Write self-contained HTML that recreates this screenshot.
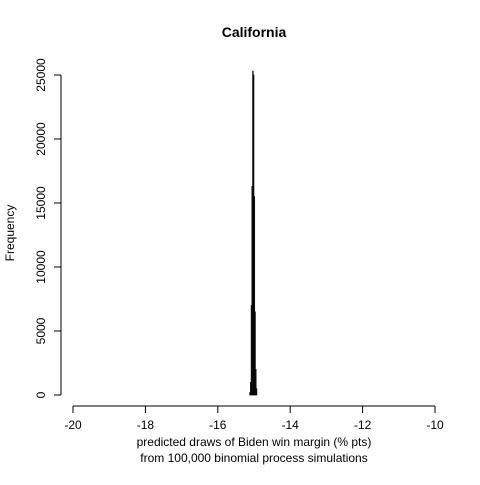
<!DOCTYPE html>
<html><head><meta charset="utf-8"><style>
body{margin:0;background:#fff}
text{font-family:"Liberation Sans",Arial,sans-serif;fill:#000}
</style></head><body>
<svg id="c" width="480" height="480" viewBox="0 0 480 480">
<text x="254" y="37" text-anchor="middle" font-weight="bold" font-size="14">California</text>
<text x="254" y="446" text-anchor="middle" font-size="12">predicted draws of Biden win margin (% pts)</text>
<text x="254" y="462" text-anchor="middle" font-size="12">from 100,000 binomial process simulations</text>
<text transform="translate(14,233) rotate(-90)" text-anchor="middle" font-size="12">Frequency</text>
<g id="bars"></g><g id="ax"></g>
</svg>
<script>
const binStarts=[-15.12,-15.10,-15.08,-15.06,-15.04,-15.02,-15.00,-14.98,-14.96,-14.94];
const counts=[200,1000,7000,16300,25300,25000,15500,6500,2000,500];
const binWidth=0.02;
const xTicks=[-20,-18,-16,-14,-12,-10];
const yTicks=[0,5000,10000,15000,20000,25000];
const NS="http://www.w3.org/2000/svg";
const X=v=>73+(v+20)*36.2;
const Y=v=>395-v*0.0128;
const bars=document.getElementById('bars'),ax=document.getElementById('ax');
function mk(t,a,p){const e=document.createElementNS(NS,t);for(const k in a)e.setAttribute(k,a[k]);p.appendChild(e);return e;}
binStarts.forEach((b,i)=>{
 const r=mk('rect',{x:X(b),y:Y(counts[i]),width:X(b+binWidth)-X(b),height:Y(0)-Y(counts[i]),fill:'#333',stroke:'#000','stroke-width':0.6},bars);
 
 
});
mk('line',{x1:X(-20),x2:X(-10),y1:406,y2:406,stroke:'#000'},ax);
xTicks.forEach(t=>{
 mk('line',{x1:X(t),x2:X(t),y1:406,y2:413,stroke:'#000'},ax);
 const tx=mk('text',{x:X(t),y:429,'text-anchor':'middle','font-size':12},ax);tx.textContent=t;
 
 
});
mk('line',{x1:61,x2:61,y1:Y(0),y2:Y(25000),stroke:'#000'},ax);
yTicks.forEach(t=>{
 mk('line',{x1:54,x2:61,y1:Y(t),y2:Y(t),stroke:'#000'},ax);
 const tx=mk('text',{transform:`translate(45,${Y(t)}) rotate(-90)`,'text-anchor':'middle','font-size':12},ax);tx.textContent=t;
 
 
});
</script>
</body></html>
